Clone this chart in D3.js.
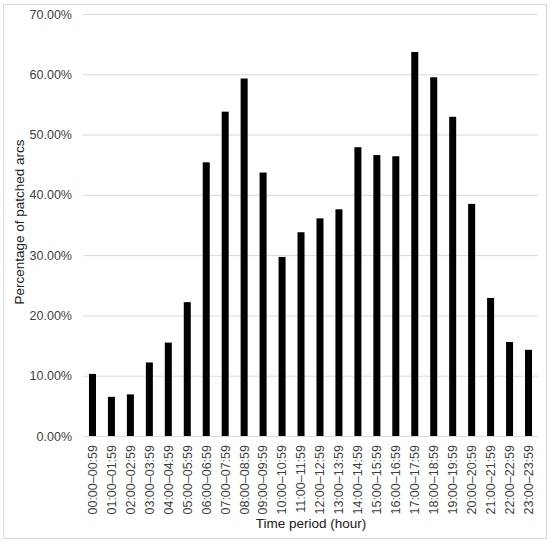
<!DOCTYPE html>
<html>
<head>
<meta charset="utf-8">
<script src="https://cdn.jsdelivr.net/npm/d3@7"></script>
<style>
  body { margin: 0; background: #fff; }
  svg { display: block; font-family: "Liberation Sans", Arial, sans-serif; }
</style>
</head>
<body>
<svg id="chart"></svg>
<script>
// hourly periods and the share of patched arcs (%)
const periods = [
  '00:00\u201300:59', '01:00\u201301:59', '02:00\u201302:59', '03:00\u201303:59',
  '04:00\u201304:59', '05:00\u201305:59', '06:00\u201306:59', '07:00\u201307:59',
  '08:00\u201308:59', '09:00\u201309:59', '10:00\u201310:59', '11:00\u201311:59',
  '12:00\u201312:59', '13:00\u201313:59', '14:00\u201314:59', '15:00\u201315:59',
  '16:00\u201316:59', '17:00\u201317:59', '18:00\u201318:59', '19:00\u201319:59',
  '20:00\u201320:59', '21:00\u201321:59', '22:00\u201322:59', '23:00\u201323:59'
]
const patched = [
  10.3, 6.5, 6.9, 12.2, 15.5, 22.2, 45.4, 53.8, 59.3, 43.7, 29.7, 33.8,
  36.1, 37.6, 47.9, 46.6, 46.4, 63.7, 59.5, 52.95, 38.5, 22.9, 15.6, 14.3
]
const yTicks = [0, 10, 20, 30, 40, 50, 60, 70]

const w = 550
const h = 542
const m = { top: 14, right: 12, bottom: 106, left: 83 }

const svg = d3.select('#chart')
    .attr('width', w)
    .attr('height', h)

// outer frame
svg.append('rect')
    .attr('x', 3.5)
    .attr('y', 4.5)
    .attr('width', 543)
    .attr('height', 534)
    .attr('fill', '#fff')
    .attr('stroke', '#d9d9d9')

const x = d3.scaleBand()
    .domain(periods)
    .range([m.left, w - m.right])
    .paddingInner(0.63)
    .paddingOuter(0.315)

const y = d3.scaleLinear()
    .domain([0, 70])
    .range([h - m.bottom, m.top])

// gridlines + y labels
const yAxis = d3.axisLeft(y)
    .tickValues(yTicks)
    .tickSize(-(w - m.right - m.left))
    .tickPadding(11)
    .tickFormat(d => d.toFixed(2) + '%')

svg.append('g')
    .attr('transform', `translate(${m.left},0)`)
    .call(yAxis)
    .call(g => g.select('.domain').remove())
    .call(g => g.selectAll('.tick line').attr('stroke', '#d9d9d9'))
    .call(g => g.selectAll('.tick text')
        .attr('fill', '#404040')
        .style('font-size', '12.5px'))

svg.append('g')
    .selectAll('rect')
    .data(patched)
    .join('rect')
    .attr('x', (d, i) => x(periods[i]))
    .attr('y', d => y(d))
    .attr('width', x.bandwidth())
    .attr('height', d => y(0) - y(d))
    .attr('fill', '#000')

// x labels, rotated
const xAxis = d3.axisBottom(x).tickSize(0).tickPadding(0)
svg.append('g')
    .attr('transform', `translate(0,${y(0)})`)
    .call(xAxis)
    .call(g => g.select('.domain').remove())
    .call(g => g.selectAll('.tick text')
        .attr('transform', 'rotate(-90)')
        .attr('text-anchor', 'end')
        .attr('x', -9)
        .attr('y', 0)
        .attr('dy', '0.35em')
        .attr('fill', '#404040')
        .style('font-size', '12.5px'))

svg.append('text')
    .attr('x', 311)
    .attr('y', 528)
    .attr('text-anchor', 'middle')
    .attr('fill', '#202020')
    .style('font-size', '13.5px')
    .text('Time period (hour)')

svg.append('text')
    .attr('transform', 'translate(24,222) rotate(-90)')
    .attr('text-anchor', 'middle')
    .attr('fill', '#202020')
    .style('font-size', '13.5px')
    .text('Percentage of patched arcs')
</script>
</body>
</html>
